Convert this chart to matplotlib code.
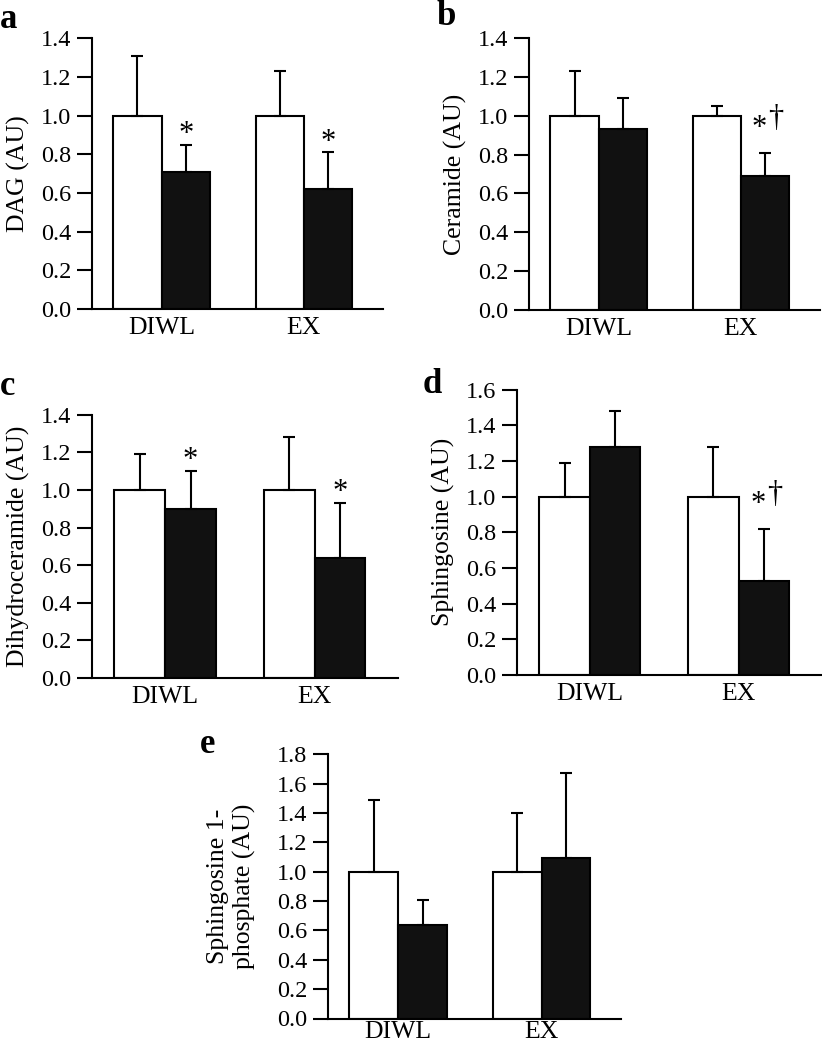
import numpy as np
import matplotlib
matplotlib.use("Agg")
import matplotlib.pyplot as plt

plt.rcParams['font.family'] = ['Liberation Serif', 'DejaVu Serif']

groups = ["DIWL", "EX"]

# panel a - DAG
dag_white = [1.0, 1.0]
dag_white_sd = [0.31, 0.23]
dag_black = [0.71, 0.62]
dag_black_sd = [0.14, 0.19]

# panel b - ceramide
cer_white = [1.0, 1.0]
cer_white_sd = [0.23, 0.05]
cer_black = [0.93, 0.69]
cer_black_sd = [0.16, 0.12]

# panel c - dihydroceramide
dhc_white = [1.0, 1.0]
dhc_white_sd = [0.19, 0.28]
dhc_black = [0.90, 0.64]
dhc_black_sd = [0.20, 0.29]

# panel d - sphingosine
sph_white = [1.0, 1.0]
sph_white_sd = [0.19, 0.28]
sph_black = [1.28, 0.53]
sph_black_sd = [0.20, 0.29]

# panel e - sphingosine 1-phosphate
s1p_white = [1.0, 1.0]
s1p_white_sd = [0.49, 0.40]
s1p_black = [0.64, 1.09]
s1p_black_sd = [0.17, 0.58]

fig = plt.figure(figsize=(8.22, 10.5), dpi=100)

panels = [
    ("a", "DAG (AU)", dag_white, dag_white_sd, dag_black, dag_black_sd, 1.4, ["*", "*"],
     [0.1119, 0.7057, 0.354, 0.258], 8, 6),
    ("b", "Ceramide (AU)", cer_white, cer_white_sd, cer_black, cer_black_sd, 1.4, ["", "*†"],
     [0.6436, 0.7048, 0.354, 0.259], 8, 6),
    ("c", "Dihydroceramide (AU)", dhc_white, dhc_white_sd, dhc_black, dhc_black_sd, 1.4, ["*", "*"],
     [0.1119, 0.3546, 0.372, 0.2502], 8, 6),
    ("d", "Sphingosine (AU)", sph_white, sph_white_sd, sph_black, sph_black_sd, 1.6, ["", "*†"],
     [0.629, 0.357, 0.370, 0.272], 8, 6),
    ("e", "Sphingosine 1-\nphosphate (AU)", s1p_white, s1p_white_sd, s1p_black, s1p_black_sd, 1.8, ["", ""],
     [0.399, 0.030, 0.357, 0.2517], 15, 2),
]
letter_pos = {"a": (0.0, 1 - 28 / 1050), "b": (0.531, 1 - 25 / 1050), "c": (0.0, 1 - 395 / 1050),
              "d": (0.514, 1 - 393 / 1050), "e": (0.243, 1 - 753 / 1050)}

x = np.arange(len(groups))
w = 0.34
lw = 1.5

for letter, ylab, wh, wh_sd, bl, bl_sd, ymax, marks, pos, lpad, xpad in panels:
    ax = fig.add_axes(pos)
    ax.bar(x - w / 2, wh, w, color="white", edgecolor="black", linewidth=lw, zorder=2)
    ax.bar(x + w / 2, bl, w, color="#111111", edgecolor="black", linewidth=lw, zorder=2)
    ax.errorbar(x - w / 2, wh, yerr=[np.zeros(2), wh_sd], fmt="none", ecolor="black",
                elinewidth=lw, capsize=4.3, capthick=lw, zorder=3)
    ax.errorbar(x + w / 2, bl, yerr=[np.zeros(2), bl_sd], fmt="none", ecolor="black",
                elinewidth=lw, capsize=4.3, capthick=lw, zorder=3)

    for i, m in enumerate(marks):
        top = bl[i] + bl_sd[i]
        if m == "*":
            ax.annotate("*", xy=(x[i] + w / 2, top), xytext=(0, 2), textcoords="offset points",
                        ha="center", va="baseline", fontsize=22)
        elif m == "*†":
            ax.annotate("*", xy=(x[i] + w / 2, top), xytext=(-4, 12), textcoords="offset points",
                        ha="center", va="baseline", fontsize=22)
            ax.annotate("†", xy=(x[i] + w / 2, top), xytext=(8, 19), textcoords="offset points",
                        ha="center", va="baseline", fontsize=22)

    ax.set_xlim(-0.49, 1.556)
    ax.set_ylim(0, ymax)
    ax.set_yticks(np.arange(0, ymax + 0.01, 0.2))
    ax.set_yticklabels(["%.1f" % v for v in np.arange(0, ymax + 0.01, 0.2)])
    ax.set_xticks(x)
    ax.set_xticklabels(groups, fontsize=18.5)
    ax.tick_params(axis="y", direction="out", length=10.8, width=lw, pad=4, labelsize=17.5)
    ax.tick_params(axis="x", length=0, pad=xpad)
    ax.spines["top"].set_visible(False)
    ax.spines["right"].set_visible(False)
    ax.spines["left"].set_linewidth(lw)
    ax.spines["bottom"].set_linewidth(lw)
    ax.set_ylabel(ylab, fontsize=18.5, labelpad=lpad, multialignment="center")

    lx, ly = letter_pos[letter]
    fig.text(lx, ly, letter, fontsize=25, fontweight="bold", ha="left", va="baseline")

fig.savefig("out.png", dpi=100)
